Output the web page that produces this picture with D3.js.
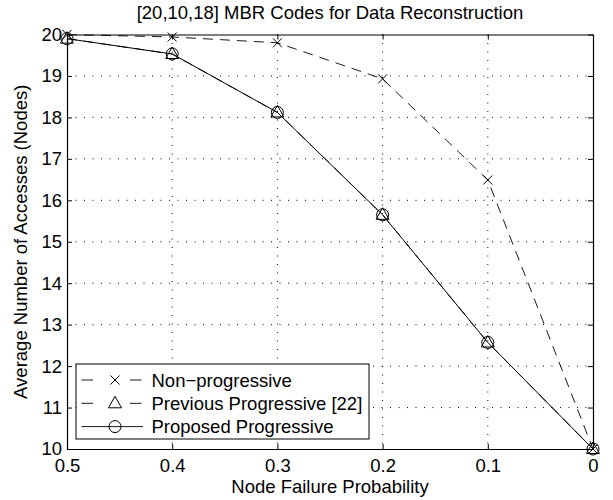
<!DOCTYPE html>
<meta charset="utf-8">
<style>
  body { margin: 0; background: #fff; }
  text { font-family: "Liberation Sans", Arial, sans-serif; fill: #000; }
</style>
<script src="https://d3js.org/d3.v7.min.js"></script>
<div id="chart"></div>
<script>

// data
var probs = [0.5, 0.4, 0.3, 0.2, 0.1, 0];
var nonProgressive = [20, 19.94, 19.8, 18.93, 16.49, 10];
var previousProgressive = [19.9, 19.53, 18.12, 15.65, 12.57, 10];
var proposedProgressive = [19.9, 19.53, 18.12, 15.65, 12.57, 10];
var xTicks = [0.5, 0.4, 0.3, 0.2, 0.1, 0];
var yTicks = [10, 11, 12, 13, 14, 15, 16, 17, 18, 19, 20];

var margin = {top: 34.5, right: 20, bottom: 51, left: 67},
    width = 613 - margin.left - margin.right,
    height = 500 - margin.top - margin.bottom;

var fs = "18.5px";

var svg = d3.select("#chart")
  .append("svg")
    .attr("width", 613)
    .attr("height", 500)
  .append("g")
    .attr("transform", "translate(" + margin.left + "," + margin.top + ")");

// reversed x axis, like the original
var x = d3.scaleLinear().domain([0.5, 0]).range([0, width]);
var y = d3.scaleLinear().domain([10, 20]).range([height, 0]);

// dotted grid
svg.append("g").selectAll("line")
  .data(xTicks.slice(1, -1))
  .enter().append("line")
    .attr("x1", function(d) { return x(d); })
    .attr("x2", function(d) { return x(d); })
    .attr("y1", 0).attr("y2", height)
    .attr("stroke", "#000").attr("stroke-width", 1)
    .attr("stroke-dasharray", "1,7.5");
svg.append("g").selectAll("line")
  .data(yTicks.slice(1, -1))
  .enter().append("line")
    .attr("y1", function(d) { return y(d); })
    .attr("y2", function(d) { return y(d); })
    .attr("x1", 0).attr("x2", width)
    .attr("stroke", "#000").attr("stroke-width", 1)
    .attr("stroke-dasharray", "1,7.5");

// axes with ticks pointing inward, MATLAB box style
svg.append("g")
    .attr("transform", "translate(0," + height + ")")
    .call(d3.axisBottom(x).tickValues(xTicks).tickSizeInner(-5).tickSizeOuter(0).tickPadding(10)
      .tickFormat(function(d) { return d === 0 ? "0" : d3.format(".1f")(d); }));
svg.append("g")
    .call(d3.axisTop(x).tickValues(xTicks).tickSizeInner(-5).tickSizeOuter(0).tickFormat(""));
svg.append("g")
    .call(d3.axisLeft(y).tickValues(yTicks).tickSizeInner(-5).tickSizeOuter(0).tickPadding(5));
svg.append("g")
    .attr("transform", "translate(" + width + ",0)")
    .call(d3.axisRight(y).tickValues(yTicks).tickSizeInner(-5).tickSizeOuter(0).tickFormat(""));

svg.selectAll(".domain").attr("stroke", "#000").attr("stroke-width", 1.2);
svg.selectAll(".tick line").attr("stroke", "#000");
svg.selectAll(".tick text").style("font-size", fs);

// series lines
var line = d3.line()
    .x(function(d) { return x(d[0]); })
    .y(function(d) { return y(d[1]); });

function pairs(vals) { return probs.map(function(p, i) { return [p, vals[i]]; }); }

svg.append("path")
    .datum(pairs(nonProgressive))
    .attr("fill", "none").attr("stroke", "#000").attr("stroke-width", 0.9)
    .attr("stroke-dasharray", "10,7")
    .attr("d", line);
svg.append("path")
    .datum(pairs(previousProgressive))
    .attr("fill", "none").attr("stroke", "#000").attr("stroke-width", 0.9)
    .attr("stroke-dasharray", "10,7")
    .attr("d", line);
svg.append("path")
    .datum(pairs(proposedProgressive))
    .attr("fill", "none").attr("stroke", "#000").attr("stroke-width", 1)
    .attr("d", line);

// markers
function cross(g, cx, cy) {
  g.append("path")
    .attr("d", "M" + (cx - 4.5) + "," + (cy - 4.5) + "L" + (cx + 4.5) + "," + (cy + 4.5) +
               "M" + (cx - 4.5) + "," + (cy + 4.5) + "L" + (cx + 4.5) + "," + (cy - 4.5))
    .attr("stroke", "#000").attr("stroke-width", 1).attr("fill", "none");
}
function triangle(g, cx, cy) {
  g.append("path")
    .attr("d", "M" + cx + "," + (cy - 7) + "L" + (cx + 6.5) + "," + (cy + 4.5) + "L" + (cx - 6.5) + "," + (cy + 4.5) + "Z")
    .attr("stroke", "#000").attr("stroke-width", 1).attr("fill", "none");
}
function circle(g, cx, cy) {
  g.append("circle").attr("cx", cx).attr("cy", cy).attr("r", 6)
    .attr("stroke", "#000").attr("stroke-width", 1).attr("fill", "none");
}

var marks = svg.append("g");
probs.forEach(function(p, i) {
  cross(marks, x(p), y(nonProgressive[i]));
  triangle(marks, x(p), y(previousProgressive[i]));
  circle(marks, x(p), y(proposedProgressive[i]));
});

// legend
var legend = svg.append("g").attr("transform", "translate(9," + (364 - margin.top) + ")");
legend.append("rect")
    .attr("x", 0).attr("y", 0).attr("width", 293).attr("height", 75)
    .attr("fill", "#fff").attr("stroke", "#000").attr("stroke-width", 1);
var entries = [
  {name: "Non\u2212progressive", dash: "11.5,37", mark: cross},
  {name: "Previous Progressive [22]", dash: "11.5,37", mark: triangle},
  {name: "Proposed Progressive", dash: null, mark: circle}
];
entries.forEach(function(e, i) {
  var ly = 16 + i * 23.3;
  legend.append("line")
      .attr("x1", 5.5).attr("x2", 67).attr("y1", ly).attr("y2", ly)
      .attr("stroke", "#000").attr("stroke-width", 0.9)
      .attr("stroke-dasharray", e.dash);
  e.mark(legend, 39, ly);
  legend.append("text")
      .attr("x", 75.5).attr("y", ly + 6.7)
      .style("font-size", fs)
      .text(e.name);
});

// axis labels and title
svg.append("text")
    .attr("x", width / 2)
    .attr("y", height + 44)
    .attr("text-anchor", "middle")
    .style("font-size", fs)
    .text("Node Failure Probability");

svg.append("text")
    .attr("transform", "rotate(-90)")
    .attr("x", -height / 2)
    .attr("y", -40)
    .attr("text-anchor", "middle")
    .style("font-size", fs)
    .text("Average Number of Accesses (Nodes)");

svg.append("text")
    .attr("x", width / 2)
    .attr("y", -15.5)
    .attr("text-anchor", "middle")
    .style("font-size", fs)
    .text("[20,10,18] MBR Codes for Data Reconstruction");

</script>
